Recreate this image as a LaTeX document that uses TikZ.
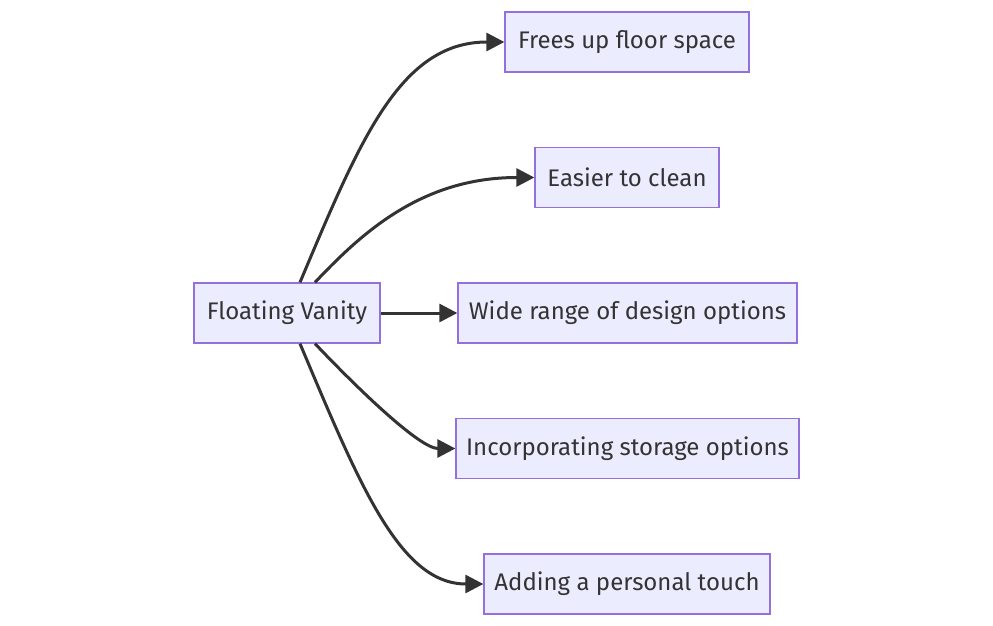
\documentclass[tikz,border=0pt]{standalone}
\usepackage{fontspec}
\setmainfont{Fira Sans}
\usetikzlibrary{arrows.meta}
\definecolor{boxfill}{HTML}{ECECFF}
\definecolor{boxline}{HTML}{9370DB}
\definecolor{ink}{HTML}{333333}

\begin{document}
\begin{tikzpicture}[x=1pt, y=-1pt, every node/.style={font=\fontsize{24}{28}\selectfont, text=ink},
    box/.style={draw=boxline, fill=boxfill, line width=1.3pt, minimum height=60pt, inner sep=0pt},
    link/.style={-{Triangle[length=18pt,width=18pt]}, draw=ink, line width=3pt}]
                \useasboundingbox (0,0) rectangle (993,626);
                \node[box, minimum width=186pt] (fv) at (287,313) {Floating Vanity};
                \node[box, minimum width=244pt] (floor) at (627,42) {Frees up floor space};
                \node[box, minimum width=184pt] (clean) at (627,177.5) {Easier to clean};
                \node[box, minimum width=339pt] (design) at (627.5,313) {Wide range of design options};
                \node[box, minimum width=343pt] (storage) at (627.5,448.5) {Incorporating storage options};
                \node[box, minimum width=286pt] (touch) at (627,584) {Adding a personal touch};

                \draw[link] ([xshift=13pt]fv.north) .. controls (360,140) and (400,42) .. (floor.west);
                \draw[link] ([xshift=28pt]fv.north) .. controls (360,235) and (420,177.5) .. (clean.west);
                \draw[link] (fv.east) -- (design.west);
                \draw[link] ([xshift=28pt]fv.south) .. controls (360,391) and (420,448.5) .. (storage.west);
                \draw[link] ([xshift=13pt]fv.south) .. controls (360,486) and (400,584) .. (touch.west);
            \end{tikzpicture}
\end{document}
